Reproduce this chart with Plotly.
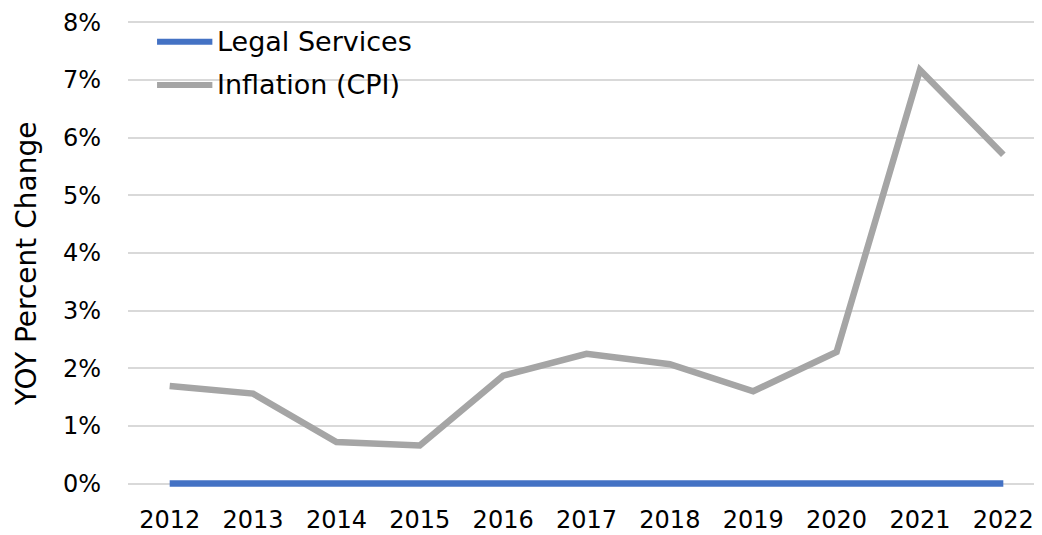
import plotly.graph_objects as go

years = ["2012", "2013", "2014", "2015", "2016", "2017", "2018", "2019", "2020", "2021", "2022"]
legal_services = [0, 0, 0, 0, 0, 0, 0, 0, 0, 0, 0]
inflation_cpi = [1.69, 1.56, 0.72, 0.66, 1.87, 2.25, 2.07, 1.60, 2.28, 7.17, 5.70]
y_ticks = [0, 1, 2, 3, 4, 5, 6, 7, 8]
y_tick_labels = ["0%", "1%", "2%", "3%", "4%", "5%", "6%", "7%", "8%"]

series = [("Legal Services", legal_services, "#4472C4"),
          ("Inflation (CPI)", inflation_cpi, "#A5A5A5")]

FONT = "DejaVu Sans"
fig = go.Figure()
for name, vals, color in series:
    fig.add_trace(go.Scatter(x=years, y=vals, mode="lines", name=name,
                             line=dict(color=color, width=6.5), showlegend=False))

# custom legend (longer line symbols as in reference)
legend_y = [0.9556, 0.8627]
for (name, vals, color), ly in zip(series, legend_y):
    fig.add_shape(type="line", xref="paper", yref="paper", x0=0.0315, x1=0.0915,
                  y0=ly, y1=ly, line=dict(color=color, width=6))
    fig.add_annotation(xref="paper", yref="paper", x=0.0945, y=ly, text=name,
                       showarrow=False, xanchor="left", yanchor="middle",
                       font=dict(family=FONT, size=27, color="#000000"))

# y-axis title
fig.add_annotation(xref="paper", yref="paper", x=-0.1105, y=0.4785,
                   text="YOY Percent Change", textangle=-90, showarrow=False,
                   xanchor="center", yanchor="middle", borderpad=0,
                   font=dict(family=FONT, size=28, color="#000000"))

fig.update_layout(
    width=1042, height=535,
    margin=dict(l=120, r=0, t=13, b=56),
    paper_bgcolor="white", plot_bgcolor="white",
    font=dict(family=FONT, size=24, color="#000000"),
    xaxis=dict(type="category", range=[-0.5, 10.56], showgrid=False, zeroline=False,
               showline=False, ticks="", ticklabelstandoff=16,
               tickfont=dict(size=24)),
    yaxis=dict(range=[-0.06, 8.02], tickvals=y_ticks, ticktext=y_tick_labels,
               showgrid=True, gridcolor="#D9D9D9", gridwidth=1.5, zeroline=False,
               showline=False, ticks="", ticklabelstandoff=26,
               tickfont=dict(size=24), automargin=False),
)
fig.write_html("out.html")
